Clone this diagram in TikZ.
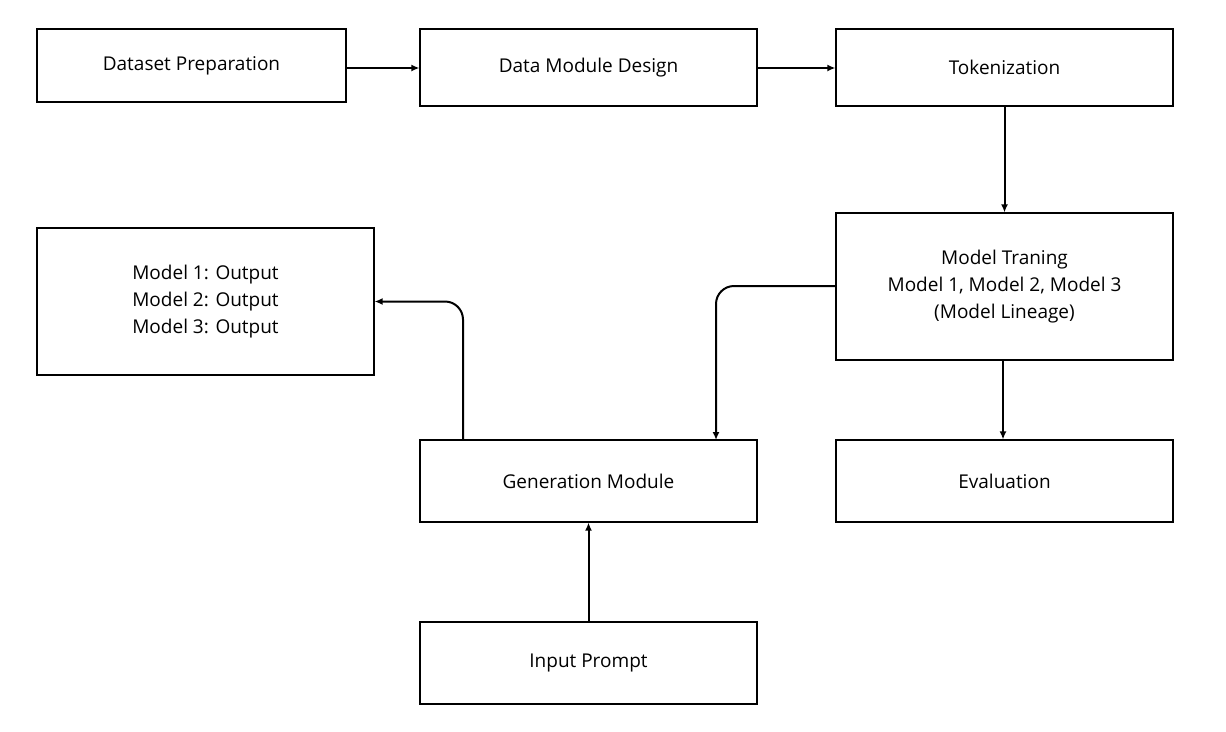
\documentclass[tikz,border=0pt]{standalone}
\usepackage{fontspec}
\setmainfont{Open Sans}
\usetikzlibrary{arrows.meta}
\begin{document}
\begin{tikzpicture}[x=1pt,y=-1pt,
  box/.style={draw,line width=1.2pt,inner sep=0pt,font=\fontsize{19}{27}\selectfont,align=center},
  arr/.style={line width=2pt,-{Latex[length=8pt,width=7pt]},rounded corners=18pt}]
\useasboundingbox (0,0) rectangle (1226,731);
\node[box,minimum width=309,minimum height=73] (dp) at (191.5,65.5) {Dataset Preparation};
\node[box,minimum width=337,minimum height=77] (dm) at (588.5,67.5) {Data Module Design};
\node[box,minimum width=337,minimum height=77] (tk) at (1004.5,67.5) {Tokenization};
\node[box,minimum width=337,minimum height=147] (mt) at (1004.5,286.5) {Model Traning\\Model 1, Model 2, Model 3\\(Model Lineage)};
\node[box,minimum width=337,minimum height=147] (out) at (205.5,301.5) {Model 1: Output\\Model 2: Output\\Model 3: Output};
\node[box,minimum width=337,minimum height=82] (gen) at (588.5,481) {Generation Module};
\node[box,minimum width=337,minimum height=82] (ev) at (1004.5,481) {Evaluation};
\node[box,minimum width=337,minimum height=82] (ip) at (588.5,663) {Input Prompt};
\draw[arr] (dp.east|-0,68) -- (dm.west|-0,68);
\draw[arr] (dm.east|-0,68) -- (tk.west|-0,68);
\draw[arr] (tk.south) -- (mt.north);
\draw[arr] (1003,360) -- (ev.north-|1003,0);
\draw[arr] (mt.west|-0,286) -| (716,440);
\draw[arr] (463,440) |- (out.east);
\draw[arr] (ip.north) -- (gen.south);
\end{tikzpicture}
\end{document}
